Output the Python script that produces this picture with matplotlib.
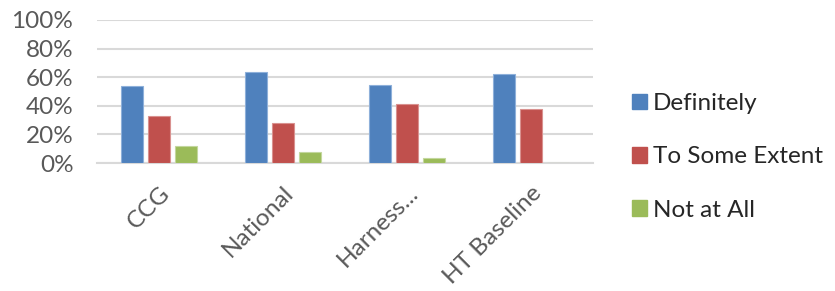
import matplotlib
matplotlib.use("Agg")
import matplotlib.pyplot as plt
import numpy as np
from matplotlib.patches import Patch

categories = ["CCG", "National", "Harness...", "HT Baseline"]
series_names = ["Definitely", "To Some Extent", "Not at All"]
definitely = [53.5, 63.5, 54.5, 62.5]
some_extent = [33, 28, 41.5, 37.5]
not_at_all = [12, 7.5, 3.5, 0]
colors = ["#4F81BD", "#C0504D", "#9BBB59"]
edge_colors = ["#8EB0DA", "#D9918F", "#C3D79E"]
yticks = [0, 20, 40, 60, 80, 100]

plt.rcParams['font.family'] = ['Lato', 'DejaVu Sans']

fig = plt.figure(figsize=(8.35, 2.91), dpi=100)
ax = fig.add_axes([97/835, 1-163/291, (593-97)/835, (163-20)/291])

x = np.arange(len(categories))
w = 0.177
offs = [-0.218, 0, 0.218]
for i, (vals, c, ec) in enumerate(zip([definitely, some_extent, not_at_all], colors, edge_colors)):
    ax.bar(x + offs[i], vals, width=w, color=c, edgecolor=ec, linewidth=0.8, zorder=3, label=series_names[i])

ax.set_xlim(-0.5, len(categories) - 0.5)
ax.set_ylim(0, 100)
ax.set_yticks(yticks)
ax.set_yticklabels([f"{t}%" for t in yticks])
ax.grid(axis='y', color='#D9D9D9', linewidth=1.5, zorder=0)
ax.set_axisbelow(True)
for s in ['top', 'right', 'left']:
    ax.spines[s].set_visible(False)
ax.spines['bottom'].set_color('#D9D9D9')
ax.spines['bottom'].set_linewidth(1.5)
ax.tick_params(axis='both', length=0, labelsize=17.5, labelcolor='#595959')
ax.tick_params(axis='y', pad=17)
ax.set_xticks(x)
ax.set_xticklabels(categories, rotation=45, ha='right', va='top', rotation_mode='anchor')
ax.tick_params(axis='x', pad=14)

handles = [Patch(facecolor=c, edgecolor=c) for c in colors]
fig.legend(handles, series_names, loc='center left', bbox_to_anchor=(632/835, 1-157/291),
           frameon=False, fontsize=17.5, labelspacing=1.33, handlelength=0.62, handleheight=0.62,
           handletextpad=0.25, labelcolor='#262626', borderpad=0, borderaxespad=0)

fig.savefig("out.png", dpi=100)
